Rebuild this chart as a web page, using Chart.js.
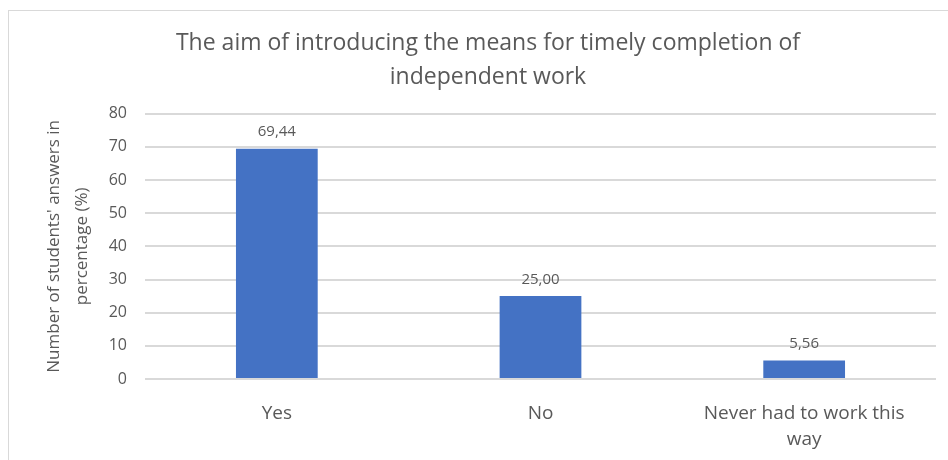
<!DOCTYPE html>
<html>
<head>
<meta charset="utf-8">
<script src="https://cdn.jsdelivr.net/npm/chart.js@4"></script>
<style>
  html, body { margin: 0; padding: 0; background: #fff; }
  #wrap { position: relative; width: 948px; height: 460px; overflow: hidden; }
  #frame { position: absolute; left: 8px; top: 10px; width: 960px; height: 480px; border: 1px solid #d9d9d9; box-sizing: border-box; }
  canvas { position: absolute; left: 0; top: 0; }
</style>
</head>
<body>
<div id="wrap">
  <div id="frame"></div>
  <canvas id="myChart" width="948" height="460"></canvas>
</div>
<script>
// answers about timely completion of independent work
const categories = ['Yes', 'No', ['Never had to work this', 'way']];
const percentages = [69.44, 25.00, 5.56];
const yTicks = [0, 10, 20, 30, 40, 50, 60, 70, 80];

const textColor = '#595959';
const fontName = 'Open Sans';

// draws the value above each bar with a comma as decimal sign
const barValues = {
  id: 'barValues',
  afterDatasetsDraw(chart) {
    const ctx = chart.ctx;
    const meta = chart.getDatasetMeta(0);
    ctx.save();
    ctx.fillStyle = textColor;
    ctx.font = '15px "' + fontName + '"';
    ctx.textAlign = 'center';
    ctx.textBaseline = 'bottom';
    meta.data.forEach(function (bar, i) {
      const txt = percentages[i].toFixed(2).replace('.', ',');
      ctx.fillText(txt, bar.x, bar.y - 9);
    });
    ctx.restore();
  }
};

const data = {
  labels: categories,
  datasets: [{
    data: percentages,
    backgroundColor: '#4472C4',
    categoryPercentage: 0.62,
    barPercentage: 0.5
  }]
};

const config = {
  type: 'bar',
  data: data,
  plugins: [barValues],
  options: {
    responsive: false,
    animation: false,
    layout: { padding: { left: 40, right: 12, top: 17, bottom: 0 } },
    plugins: {
      legend: { display: false },
      tooltip: { enabled: false },
      title: {
        display: true,
        text: ['The aim of introducing the means for timely completion of', 'independent work'],
        color: textColor,
        font: { family: fontName, size: 23, weight: 'normal', lineHeight: 1.45 },
        padding: { top: 10, bottom: 20 }
      }
    },
    scales: {
      x: {
        grid: { display: false },
        border: { display: false },
        ticks: {
          color: textColor,
          font: { family: fontName, size: 19, lineHeight: 1.4 },
          maxRotation: 0,
          padding: 13
        },
        afterFit: function (scale) { scale.height = 81; }
      },
      y: {
        min: 0,
        max: 80,
        afterBuildTicks: function (scale) {
          scale.ticks = yTicks.map(function (v) { return { value: v }; });
        },
        grid: { color: '#d9d9d9', lineWidth: 2, drawTicks: false },
        border: { display: false },
        ticks: {
          color: textColor,
          font: { family: fontName, size: 16 },
          padding: 18
        },
        title: {
          display: true,
          text: ["Number of students' answers in", 'percentage (%)'],
          color: textColor,
          font: { family: fontName, size: 17, lineHeight: 1.65 },
          padding: { top: 0, bottom: 0 }
        },
        afterFit: function (scale) { scale.width = 105; }
      }
    }
  }
};

var myChart = new Chart(document.getElementById('myChart'), config);
</script>
</body>
</html>
